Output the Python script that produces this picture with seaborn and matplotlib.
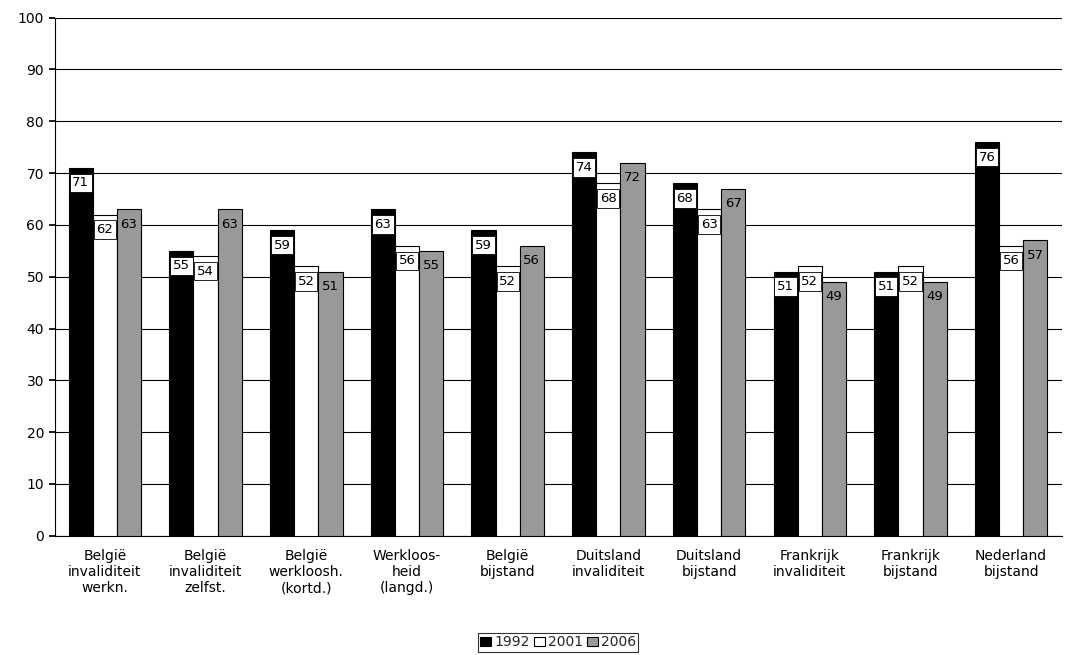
import matplotlib
matplotlib.use("Agg")
import matplotlib.pyplot as plt
import seaborn as sns
import pandas as pd

categories = ["België\ninvaliditeit\nwerkn.", "België\ninvaliditeit\nzelfst.", "België\nwerkloosh.\n(kortd.)",
              "Werkloos-\nheid\n(langd.)", "België\nbijstand", "Duitsland\ninvaliditeit", "Duitsland\nbijstand",
              "Frankrijk\ninvaliditeit", "Frankrijk\nbijstand", "Nederland\nbijstand"]
years = ["1992", "2001", "2006"]
v1992 = [71, 55, 59, 63, 59, 74, 68, 51, 51, 76]
v2001 = [62, 54, 52, 56, 52, 68, 63, 52, 52, 56]
v2006 = [63, 63, 51, 55, 56, 72, 67, 49, 49, 57]

df = pd.DataFrame({
    "cat": categories * 3,
    "year": [y for y in years for _ in categories],
    "value": v1992 + v2001 + v2006,
})

sns.set_theme(style="white")
plt.rcParams["font.family"] = ["DejaVu Sans"]
fig = plt.figure(figsize=(10.69, 6.55), dpi=100)
ax = fig.add_axes([0.051, 0.182, 0.942, 0.791])

sns.barplot(data=df, x="cat", y="value", hue="year", ax=ax,
            palette=["black", "white", "#999999"], edgecolor="black", linewidth=0.8,
            width=0.72, errorbar=None, zorder=3)

for i, cont in enumerate(ax.containers):
    for p in cont:
        h = p.get_height()
        kw = dict(ha="center", va="center", fontsize=9.5, color="black", zorder=5)
        if i < 2:
            kw["bbox"] = dict(boxstyle="square,pad=0.2", fc="white", ec="black", lw=0.6)
        ax.text(p.get_x() + p.get_width() / 2, h - 2.9, f"{h:.0f}", **kw)

ax.set_ylim(0, 100)
ax.set_yticks(range(0, 101, 10))
ax.set_xlim(-0.5, 9.5)
ax.yaxis.grid(True, color="black", linewidth=0.8, zorder=0)
ax.set_axisbelow(True)
for s in ["top", "right"]:
    ax.spines[s].set_visible(False)
for s in ["left", "bottom"]:
    ax.spines[s].set_color("black")
    ax.spines[s].set_linewidth(0.8)
ax.tick_params(axis="y", left=True, length=4, color="black", labelsize=10, labelcolor="black")
ax.tick_params(axis="x", bottom=False, labelsize=10, labelcolor="black")
ax.set_xlabel("")
ax.set_ylabel("")

leg = ax.legend(loc="upper center", bbox_to_anchor=(0.5, -0.175), ncol=3, frameon=True,
                fancybox=False, edgecolor="black", fontsize=10, handlelength=0.8,
                handletextpad=0.2, columnspacing=0.3, borderpad=0.15)
leg.get_frame().set_linewidth(0.8)

fig.savefig("out.png", dpi=100)
